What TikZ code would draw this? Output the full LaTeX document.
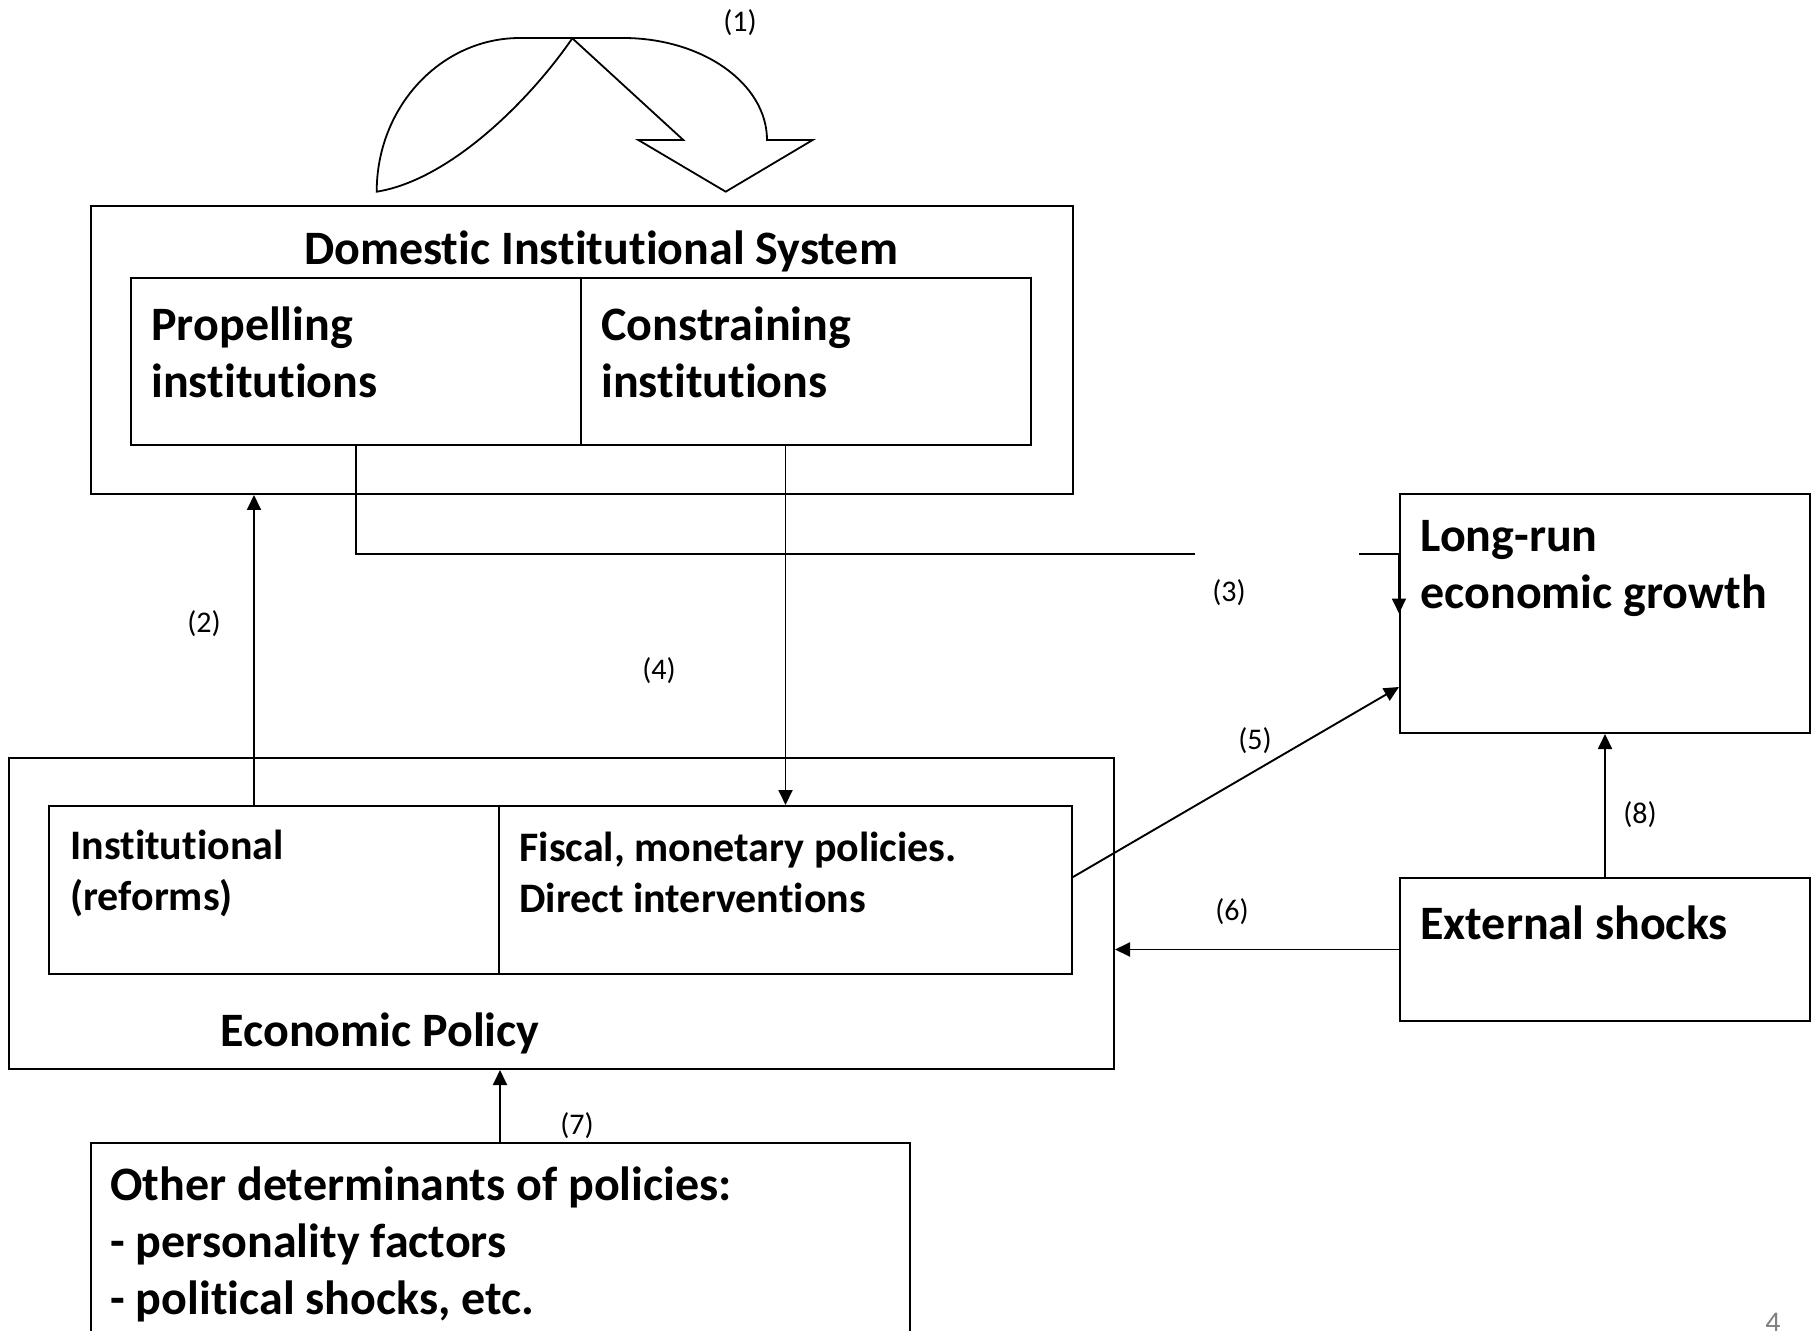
\documentclass[tikz,border=0pt]{standalone}
\usepackage{fontspec}
\setmainfont{Carlito}[Ligatures=NoCommon]
\usetikzlibrary{arrows.meta}
\begin{document}
\begin{tikzpicture}[x=0.5pt,y=-0.5pt,
  box/.style={draw, line width=1pt, inner sep=0pt},
  big/.style={font=\bfseries\fontsize{24}{28.5}\selectfont, inner sep=0pt},
  med/.style={font=\bfseries\fontsize{21}{25.5}\selectfont, inner sep=0pt},
  lab/.style={font=\fontsize{15}{18}\selectfont, inner sep=0pt},
  conn/.style={line width=0.95pt},
  arr/.style={-{Triangle[length=7.5pt,width=7pt]}}]
\useasboundingbox (0,0) rectangle (1819,1331);
% boxes
\node[box, minimum width=491.25pt, minimum height=143.75pt] (dom) at (581.75,350.25) {};
\node[box, minimum width=225pt, minimum height=83.5pt] (prop) at (356,362) {};
\node[box, minimum width=225pt, minimum height=83.5pt] (cons) at (806,362) {};
\node[box, minimum width=205pt, minimum height=119.5pt] (lr) at (1605,613.5) {};
\node[box, minimum width=205pt, minimum height=71.5pt] (ext) at (1605,949.5) {};
\node[box, minimum width=552.5pt, minimum height=155.5pt] (pol) at (561.5,913.5) {};
\node[box, minimum width=225pt, minimum height=84pt] (inst) at (274,890) {};
\node[box, minimum width=286.5pt, minimum height=84pt] (fisc) at (785.5,890) {};
\node[box, minimum width=409.5pt, minimum height=128.5pt] (oth) at (500,1271.5) {};
% texts
\node[big] (domt) at (601,251) {Domestic Institutional System};
\node[big, anchor=west, align=left] (propt) at (151,352) {Propelling\\institutions};
\node[big, anchor=west, align=left] (const) at (601,352) {Constraining\\institutions};
\node[big, anchor=west, align=left] (lrt) at (1420,568.5) {Long-run\\economic growth};
\node[big, anchor=west] (extt) at (1420,923) {External shocks};
\node[med, anchor=west, align=left] (instt) at (70,873.5) {Institutional\\(reforms)};
\node[med, anchor=west, align=left] (fisct) at (519,872) {Fiscal, monetary policies.\\Direct interventions};
\node[big] (polt) at (380,1033) {Economic Policy};
\node[big, anchor=west, align=left] (otht) at (110,1244) {Other determinants of policies:\\- personality factors\\- political shocks, etc.};
% curved arrow (1)
\draw[line width=0.9pt, line join=miter]
  (376.7,191.7) .. controls (376.7,106.8) and (440.9,38) .. (520,38)
  -- (623,38) .. controls (702.5,38) and (767,83.7) .. (767,140)
  -- (812.7,140) -- (725.7,191.7) -- (638.3,140) -- (683.3,140)
  -- (572.3,38.3) .. controls (530,100) and (450,180) .. (376.7,191.7) -- cycle;
% connectors
\coordinate (a2) at ([xshift=-10pt]inst.north);
\draw[conn, arr] (a2) -- (a2 |- dom.south);
\coordinate (g3a) at (1195,554);
\coordinate (g3b) at (1359,554);
\draw[conn] (prop.south) |- (g3a);
\draw[conn, arr] (g3b) -| (lr.west);
\draw[conn, arr] (fisc.north |- cons.south) -- (fisc.north);
\coordinate (a5s) at ([yshift=6.5pt]fisc.east);
\coordinate (a5e) at ([yshift=-36.75pt]lr.west);
\draw[conn, arr] (a5s) -- (a5e);
\draw[conn, arr] (ext.west) -- (ext.west -| pol.east);
\draw[conn, arr] (oth.north) -- (oth.north |- pol.south);
\draw[conn, arr] (ext.north) -- (lr.south);
% labels
\node[lab] (l1) at (740,23) {(1)};
\node[lab] (l2) at (204,624) {(2)};
\node[lab] (l3) at (1229,593) {(3)};
\node[lab] (l4) at (659,671) {(4)};
\node[lab] (l5) at (1255,741) {(5)};
\node[lab] (l6) at (1232,912) {(6)};
\node[lab] (l7) at (577,1126) {(7)};
\node[lab] (l8) at (1640,815) {(8)};
\node[lab, text=gray, anchor=north] (pg) at (1773,1313) {4};
\end{tikzpicture}
\end{document}
